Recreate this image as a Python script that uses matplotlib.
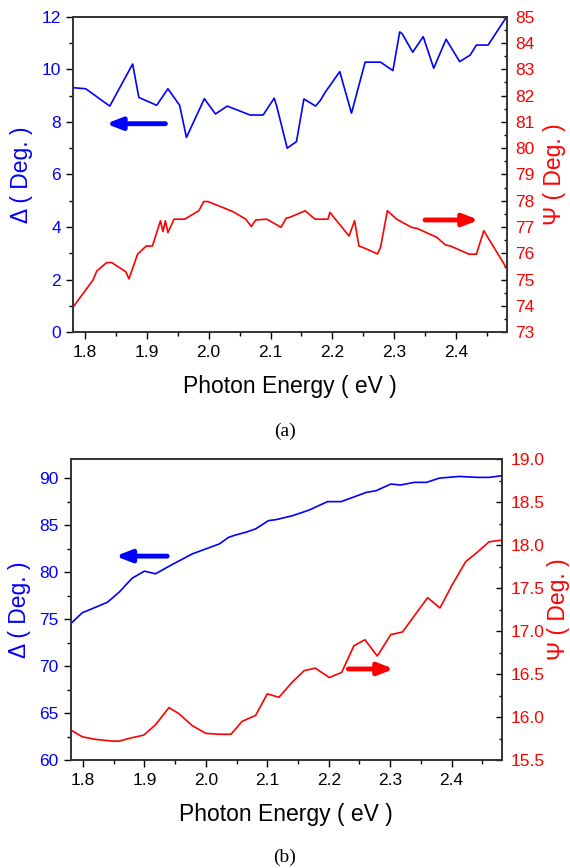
import matplotlib
matplotlib.use('Agg')
import matplotlib.pyplot as plt
from matplotlib.ticker import MultipleLocator

plt.rcParams['font.family'] = ['Liberation Sans', 'DejaVu Sans']

# (a) Delta and Psi, thin film
energy_a_delta = [1.780, 1.801, 1.840, 1.877, 1.887, 1.916, 1.934, 1.953, 1.964, 1.993,
                  2.011, 2.030, 2.067, 2.088, 2.106, 2.110, 2.127, 2.142, 2.154, 2.173,
                  2.181, 2.188, 2.212, 2.231, 2.253, 2.278, 2.298, 2.309, 2.313, 2.330,
                  2.347, 2.364, 2.384, 2.406, 2.423, 2.433, 2.452, 2.482]
delta_a = [9.30, 9.26, 8.60, 10.20, 8.93, 8.63, 9.26, 8.63, 7.41, 8.88,
           8.30, 8.60, 8.26, 8.26, 8.90, 8.60, 7.00, 7.25, 8.87, 8.60,
           8.83, 9.11, 9.91, 8.33, 10.27, 10.27, 9.95, 11.42, 11.35, 10.65,
           11.24, 10.04, 11.14, 10.29, 10.54, 10.92, 10.92, 12.00]

energy_a_psi = [1.780, 1.781, 1.813, 1.819, 1.835, 1.843, 1.866, 1.871, 1.885, 1.899,
                1.909, 1.922, 1.926, 1.930, 1.934, 1.944, 1.961, 1.984, 1.992, 1.999,
                2.039, 2.060, 2.069, 2.076, 2.094, 2.117, 2.125, 2.131, 2.156, 2.172,
                2.193, 2.196, 2.227, 2.236, 2.243, 2.253, 2.273, 2.278, 2.289, 2.304,
                2.328, 2.337, 2.369, 2.383, 2.391, 2.421, 2.433, 2.445, 2.482]
psi_a = [74.29, 73.97, 74.99, 75.33, 75.65, 75.65, 75.30, 75.03, 75.97, 76.28,
         76.28, 77.24, 76.83, 77.24, 76.79, 77.30, 77.30, 77.62, 77.97, 77.97,
         77.59, 77.30, 77.02, 77.27, 77.30, 76.99, 77.33, 77.37, 77.62, 77.30,
         77.30, 77.56, 76.66, 77.24, 76.28, 76.19, 75.98, 76.23, 77.62, 77.30,
         76.99, 76.95, 76.61, 76.32, 76.28, 75.97, 75.97, 76.86, 75.43]

# (b)
energy_b_delta = [1.780, 1.799, 1.821, 1.840, 1.859, 1.880, 1.900, 1.918, 1.945, 1.978,
                  2.000, 2.022, 2.037, 2.049, 2.065, 2.081, 2.102, 2.114, 2.141, 2.168,
                  2.198, 2.220, 2.239, 2.261, 2.277, 2.301, 2.317, 2.339, 2.359, 2.380,
                  2.412, 2.442, 2.461, 2.481]
delta_b = [74.51, 75.68, 76.27, 76.80, 77.87, 79.35, 80.10, 79.82, 80.80, 81.94,
           82.47, 83.00, 83.70, 83.96, 84.24, 84.60, 85.48, 85.58, 86.00, 86.60,
           87.50, 87.50, 87.95, 88.48, 88.66, 89.37, 89.27, 89.55, 89.55, 90.00,
           90.18, 90.08, 90.08, 90.25]

energy_b_psi = [1.780, 1.799, 1.821, 1.848, 1.859, 1.880, 1.899, 1.918, 1.940, 1.956,
                1.978, 2.000, 2.022, 2.041, 2.059, 2.081, 2.100, 2.119, 2.141, 2.160,
                2.178, 2.201, 2.221, 2.241, 2.259, 2.279, 2.301, 2.320, 2.361, 2.381,
                2.401, 2.423, 2.442, 2.461, 2.481]
psi_b = [15.85, 15.77, 15.74, 15.72, 15.72, 15.76, 15.79, 15.91, 16.11, 16.04,
         15.90, 15.81, 15.80, 15.80, 15.95, 16.02, 16.27, 16.23, 16.41, 16.54,
         16.57, 16.46, 16.52, 16.83, 16.90, 16.71, 16.96, 16.99, 17.39, 17.27,
         17.54, 17.81, 17.92, 18.04, 18.06]

# arrows: (tail x, head x, y)
arrow_a_delta = (1.930, 1.834, 7.93)
arrow_a_psi = (2.350, 2.437, 77.27)
arrow_b_delta = (1.937, 1.853, 81.7)
arrow_b_psi = (2.232, 2.306, 16.56)

BLUE = '#0000ff'
RED = '#ff0000'
SPINE = '#333333'

fig = plt.figure(figsize=(5.70, 8.68), dpi=100)


def make_panel(rect, ex_d, d, ex_p, p, dlim, dstep, plim, pstep, arr_d, arr_p, caption, cap_y,
               psi_pad):
    ax = fig.add_axes(rect)
    ax2 = ax.twinx()
    ax.plot(ex_d, d, color=BLUE, lw=1.2)
    ax2.plot(ex_p, p, color=RED, lw=1.2)
    ax.set_xlim(1.78, 2.482)
    ax.set_ylim(*dlim)
    ax2.set_ylim(*plim)

    ax.xaxis.set_major_locator(MultipleLocator(0.1))
    ax.xaxis.set_minor_locator(MultipleLocator(0.05))
    ax.yaxis.set_major_locator(MultipleLocator(dstep))
    ax.yaxis.set_minor_locator(MultipleLocator(dstep / 2))
    ax2.yaxis.set_major_locator(MultipleLocator(pstep))
    ax2.yaxis.set_minor_locator(MultipleLocator(pstep / 2))
    if pstep < 1:
        ax2.yaxis.set_major_formatter(plt.FormatStrFormatter('%.1f'))
    else:
        ax2.yaxis.set_major_formatter(plt.FormatStrFormatter('%d'))
    ax.xaxis.set_major_formatter(plt.FormatStrFormatter('%.1f'))

    for s in ax.spines.values():
        s.set_color(SPINE)
        s.set_linewidth(1.2)
    for s in ax2.spines.values():
        s.set_color(SPINE)
        s.set_linewidth(1.2)

    ax.tick_params(axis='x', which='major', direction='out', length=5, width=1, colors='black',
                   labelsize=12.5, pad=4)
    ax.tick_params(axis='x', which='minor', direction='out', length=3, width=1, color='black')
    ax.tick_params(axis='y', which='major', direction='out', length=5, width=1, color='black',
                   labelcolor=BLUE, labelsize=12.5)
    ax.tick_params(axis='y', which='minor', direction='out', length=3, width=1, color='black')
    ax2.tick_params(axis='y', which='major', direction='in', length=4, width=1, color='black',
                    labelcolor=RED, labelsize=12.5, pad=6)
    ax2.tick_params(axis='y', which='minor', direction='in', length=2.5, width=1, color='black')

    ax.set_xlabel('Photon Energy ( eV )', fontsize=16.5, labelpad=11)
    ax.set_ylabel('Δ ( Deg. )', fontsize=16.5, color=BLUE, labelpad=6)
    ax2.set_ylabel('Ψ ( Deg. )', fontsize=16.5, color=RED, rotation=90, labelpad=psi_pad)

    ax.annotate('', xy=(arr_d[1], arr_d[2]), xytext=(arr_d[0], arr_d[2]),
                arrowprops=dict(arrowstyle='-|>,head_length=0.9,head_width=0.35',
                                color=BLUE, lw=3.5, shrinkA=0, shrinkB=0))
    ax2.annotate('', xy=(arr_p[1], arr_p[2]), xytext=(arr_p[0], arr_p[2]),
                 arrowprops=dict(arrowstyle='-|>,head_length=0.9,head_width=0.35',
                                 color=RED, lw=3.5, shrinkA=0, shrinkB=0))

    fig.text(0.5, cap_y, caption, ha='center', va='center', fontsize=14,
             family='Liberation Serif')
    return ax, ax2


make_panel([0.1275, 0.6172, 0.7614, 0.3636], energy_a_delta, delta_a, energy_a_psi, psi_a,
           (0, 12), 2, (73, 85), 1, arrow_a_delta, arrow_a_psi, '(a)', 1 - 431 / 868, 6)
make_panel([0.124, 0.1244, 0.7567, 0.3464], energy_b_delta, delta_b, energy_b_psi, psi_b,
           (60, 92), 5, (15.5, 19.0), 0.5, arrow_b_delta, arrow_b_psi, '(b)', 1 - 857 / 868, 2)

fig.savefig('out.png', dpi=100)
